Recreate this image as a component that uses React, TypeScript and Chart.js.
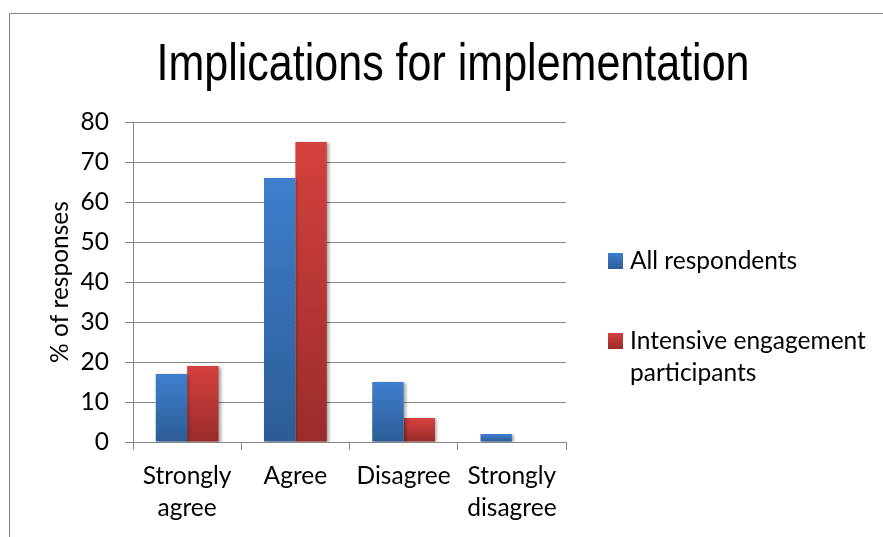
import React, { useEffect, useRef } from "react";
import { Chart, registerables } from "chart.js";

Chart.register(...registerables);

// ---- Data ----
const categories: (string | string[])[] = [["Strongly", "agree"], "Agree", "Disagree", ["Strongly", "disagree"]];
const allRespondents = [17, 66, 15, 2];
const intensiveParticipants = [19, 75, 6, 0];
const seriesLabels: string[][] = [["All respondents"], ["Intensive engagement", "participants"]];
const chartTitle = "Implications for implementation";
const yAxisTitle = "% of responses";
const yMin = 0;
const yMax = 80;
const yStep = 10;

// ---- Styles ----
const FONT = 'Lato, "Noto Sans", sans-serif';
const FS = 24.5;
const TITLE_FONT = '"Liberation Sans Narrow", "Liberation Sans", Arial, sans-serif';
const GRID = "#868686";
const BLUE_TOP = "#3E7FCD";
const BLUE_BOT = "#2C5C96";
const RED_TOP = "#D4413E";
const RED_BOT = "#9A2C2A";

function barGradient(top: string, bot: string) {
  return (c: any) => {
    const chart = c.chart;
    const y = chart.scales && chart.scales.y;
    if (!y || c.raw === undefined || !chart.chartArea) return top;
    const t = y.getPixelForValue(c.raw);
    const b = y.getPixelForValue(0);
    if (!isFinite(t) || !isFinite(b) || Math.abs(b - t) < 1) return top;
    const g = chart.ctx.createLinearGradient(0, t, 0, b);
    g.addColorStop(0, top);
    g.addColorStop(1, bot);
    return g;
  };
}

const decorPlugin = {
  id: "decor",
  beforeDraw(chart: any) {
    const ctx = chart.ctx;
    ctx.save();
    ctx.strokeStyle = GRID;
    ctx.lineWidth = 1;
    ctx.strokeRect(9.5, 13.5, 1000, 1000);
    ctx.restore();
  },
  beforeDatasetsDraw(chart: any) {
    const ctx = chart.ctx;
    ctx.save();
    ctx.shadowColor = "rgba(0,0,0,0.35)";
    ctx.shadowBlur = 3;
    ctx.shadowOffsetX = 2;
    ctx.shadowOffsetY = 1;
  },
  afterDatasetsDraw(chart: any) {
    chart.ctx.restore();
  },
  afterDraw(chart: any) {
    const ctx = chart.ctx;
    ctx.save();
    // Title (horizontally condensed to mimic a narrow face)
    ctx.fillStyle = "#000";
    ctx.font = `52px ${TITLE_FONT}`;
    ctx.textAlign = "center";
    ctx.textBaseline = "alphabetic";
    const w = ctx.measureText(chartTitle).width;
    const sx = Math.min(1, 593 / w);
    ctx.translate(453, 80);
    ctx.scale(sx, 1);
    ctx.fillText(chartTitle, 0, 0);
    ctx.restore();

    ctx.save();
    // Legend
    const items = [
      { top: BLUE_TOP, bot: BLUE_BOT, y: 261 },
      { top: RED_TOP, bot: RED_BOT, y: 341 },
    ];
    ctx.font = `${FS}px ${FONT}`;
    ctx.textAlign = "left";
    ctx.textBaseline = "middle";
    items.forEach((it, i) => {
      const g = ctx.createLinearGradient(0, it.y - 8, 0, it.y + 8);
      g.addColorStop(0, it.top);
      g.addColorStop(1, it.bot);
      ctx.fillStyle = g;
      ctx.fillRect(608, it.y - 8, 15, 16);
      ctx.fillStyle = "#000";
      seriesLabels[i].forEach((line, j) => {
        ctx.fillText(line, 630, it.y + j * 32);
      });
    });
    ctx.restore();
  },
};

export default function App() {
  const ref = useRef<HTMLCanvasElement | null>(null);

  useEffect(() => {
    if (!ref.current) return;
    const chart = new Chart(ref.current, {
      type: "bar",
      data: {
        labels: categories,
        datasets: [
          {
            label: seriesLabels[0].join(" "),
            data: allRespondents,
            backgroundColor: barGradient(BLUE_TOP, BLUE_BOT),
            borderWidth: 0,
          },
          {
            label: seriesLabels[1].join(" "),
            data: intensiveParticipants,
            backgroundColor: barGradient(RED_TOP, RED_BOT),
            borderWidth: 0,
          },
        ],
      },
      options: {
        animation: false,
        responsive: true,
        maintainAspectRatio: false,
        devicePixelRatio: 1,
        layout: { padding: { left: 0, top: 122, right: 317, bottom: 0 } },
        datasets: { bar: { categoryPercentage: 0.58, barPercentage: 1 } },
        plugins: {
          legend: { display: false },
          title: { display: false },
          tooltip: { enabled: false },
        },
        scales: {
          x: {
            afterFit: (s: any) => {
              s.height = 95;
            },
            grid: {
              display: true,
              drawOnChartArea: false,
              drawTicks: true,
              tickLength: 8,
              color: GRID,
              offset: true,
            },
            border: { display: true, color: GRID, width: 1 },
            ticks: {
              color: "#000",
              font: { family: FONT, size: FS, lineHeight: 1.32 },
              padding: 10,
              maxRotation: 0,
              autoSkip: false,
            },
          },
          y: {
            min: yMin,
            max: yMax,
            afterFit: (s: any) => {
              s.width = 133;
            },
            grid: {
              color: GRID,
              drawTicks: true,
              tickLength: 8,
            },
            border: { display: true, color: GRID, width: 1 },
            ticks: {
              stepSize: yStep,
              color: "#000",
              font: { family: FONT, size: FS },
              padding: 16,
            },
            title: {
              display: true,
              text: yAxisTitle,
              color: "#000",
              font: { family: FONT, size: FS, lineHeight: 1.2 },
              padding: { top: 45, bottom: 0 },
            },
          },
        },
      },
      plugins: [decorPlugin],
    });
    return () => chart.destroy();
  }, []);

  return (
    <div style={{ position: "fixed", left: 0, top: 0, width: 883, height: 537, background: "#fff" }}>
      <canvas ref={ref} />
    </div>
  );
}
